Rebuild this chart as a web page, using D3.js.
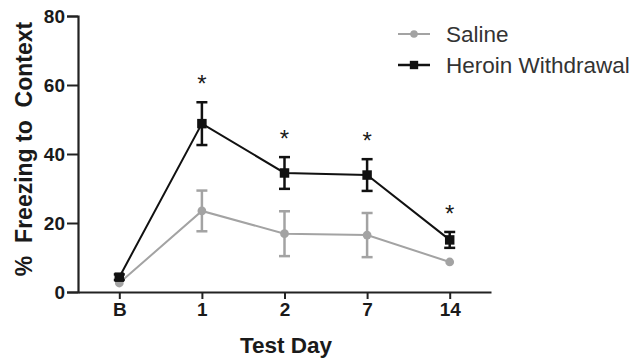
<!DOCTYPE html>
<html>
<head>
<meta charset="utf-8">
<script src="https://cdn.jsdelivr.net/npm/d3@7"></script>
<style>
  html, body { margin: 0; padding: 0; background: #fff; }
  svg { display: block; }
</style>
</head>
<body>
<svg id="chart" width="632" height="362"></svg>
<script>
const days = ["B", "1", "2", "7", "14"];
const salineMean = [2.6, 23.5, 16.9, 16.5, 8.7];
const salineSem = [0, 5.9, 6.5, 6.4, 0];
const heroinMean = [4.3, 48.8, 34.5, 33.9, 15.1];
const heroinSem = [0.8, 6.2, 4.6, 4.6, 2.3];
const significant = [false, true, true, true, true];
const yTicks = [0, 20, 40, 60, 80];
const seriesNames = ["Saline", "Heroin Withdrawal"];

const font = "'Liberation Sans', Arial, Helvetica, sans-serif";
const svg = d3.select("#chart");

const x = d3.scalePoint().domain(days).range([78, 491]).padding(0.5);
const y = d3.scaleLinear().domain([0, 80]).range([292, 16]);

const axisColor = "#222";

// Y axis
const yAxis = svg.append("g").attr("transform", "translate(78,0)")
  .call(d3.axisLeft(y).tickValues(yTicks).tickSize(11).tickPadding(2).tickFormat(d3.format("d")));
yAxis.select(".domain").attr("stroke", axisColor).attr("stroke-width", 2.2);
yAxis.selectAll(".tick line").attr("stroke", axisColor).attr("stroke-width", 2);
yAxis.selectAll(".tick text").attr("fill", "#1a1a1a").attr("font-family", font)
  .attr("font-weight", "bold").attr("font-size", 19);

// X axis
const xAxis = svg.append("g").attr("transform", "translate(0,292)")
  .call(d3.axisBottom(x).tickSize(7).tickSizeOuter(0).tickPadding(4));
xAxis.select(".domain").attr("stroke", axisColor).attr("stroke-width", 2.2);
xAxis.selectAll(".tick line").attr("stroke", axisColor).attr("stroke-width", 2);
xAxis.selectAll(".tick text").attr("fill", "#1a1a1a").attr("font-family", font)
  .attr("font-weight", "bold").attr("font-size", 19);

// Axis titles
svg.append("text")
  .attr("transform", "translate(32,149) rotate(-90)")
  .attr("text-anchor", "middle")
  .attr("font-family", font).attr("font-weight", "bold").attr("font-size", 23)
  .attr("fill", "#1a1a1a")
  .style("white-space", "pre")
  .text("%  Freezing to  Context");

svg.append("text")
  .attr("x", 286).attr("y", 353)
  .attr("text-anchor", "middle")
  .attr("font-family", font).attr("font-weight", "bold").attr("font-size", 22.5)
  .attr("fill", "#1a1a1a")
  .text("Test Day");

function drawSeries(means, sems, color, shape, lw) {
  const data = days.map((d, i) => ({ day: d, m: means[i], s: sems[i] }));
  const g = svg.append("g");
  g.append("path").datum(data)
    .attr("fill", "none").attr("stroke", color).attr("stroke-width", lw)
    .attr("d", d3.line().x(d => x(d.day)).y(d => y(d.m)));
  const eb = g.selectAll(".eb").data(data.filter(d => d.s > 0)).join("g");
  eb.append("line")
    .attr("x1", d => x(d.day)).attr("x2", d => x(d.day))
    .attr("y1", d => y(d.m + d.s)).attr("y2", d => y(d.m - d.s))
    .attr("stroke", color).attr("stroke-width", 2.5);
  [1, -1].forEach(sign => {
    eb.append("line")
      .attr("x1", d => x(d.day) - 5.5).attr("x2", d => x(d.day) + 5.5)
      .attr("y1", d => y(d.m + sign * d.s)).attr("y2", d => y(d.m + sign * d.s))
      .attr("stroke", color).attr("stroke-width", 2.5);
  });
  const sym = d3.symbol().type(shape === "square" ? d3.symbolSquare : d3.symbolCircle)
    .size(shape === "square" ? 90 : 60);
  g.selectAll(".pt").data(data).join("path")
    .attr("transform", d => `translate(${x(d.day)},${y(d.m)})`)
    .attr("d", sym).attr("fill", color);
}

drawSeries(salineMean, salineSem, "#a3a3a3", "circle", 2);
drawSeries(heroinMean, heroinSem, "#111", "square", 2);

// Significance stars
svg.selectAll(".star").data(days.map((d, i) => ({ day: d, top: heroinMean[i] + heroinSem[i], sig: significant[i] })).filter(d => d.sig))
  .join("text")
  .attr("x", d => x(d.day)).attr("y", d => y(d.top) - 10)
  .attr("text-anchor", "middle")
  .attr("font-family", font).attr("font-size", 24).attr("fill", "#1a1a1a")
  .text("*");

// Legend
const legend = svg.append("g");
const legendColors = ["#a3a3a3", "#111"];
const legendShapes = [d3.symbolCircle, d3.symbolSquare];
seriesNames.forEach((name, i) => {
  const ly = 34 + i * 31;
  legend.append("line").attr("x1", 398).attr("x2", 430).attr("y1", ly).attr("y2", ly)
    .attr("stroke", legendColors[i]).attr("stroke-width", i === 0 ? 2 : 2.5);
  legend.append("path").attr("transform", `translate(414,${ly})`)
    .attr("d", d3.symbol().type(legendShapes[i]).size(i === 0 ? 45 : 70)()).attr("fill", legendColors[i]);
  legend.append("text").attr("x", 446).attr("y", ly + 8)
    .attr("font-family", font).attr("font-size", 22.5).attr("fill", "#333")
    .text(name);
});
</script>
</body>
</html>
